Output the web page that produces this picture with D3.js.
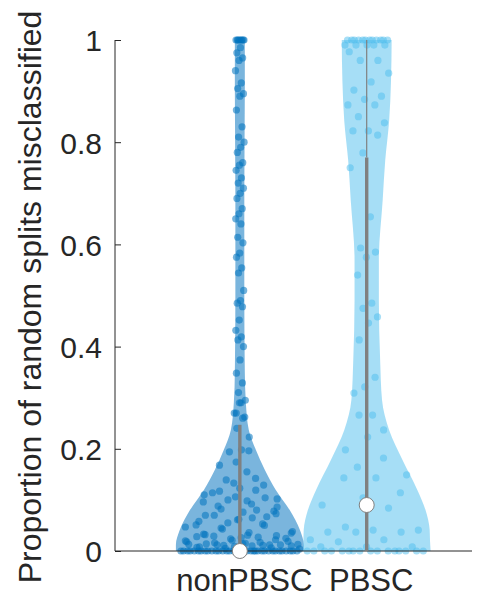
<!DOCTYPE html>
<html><head><meta charset="utf-8">
<script src="https://cdn.jsdelivr.net/npm/d3@7"></script>
<style>body{margin:0;background:#fff}svg{display:block}text{font-family:"Liberation Sans",Arial,sans-serif;fill:#262626}</style>
</head><body><svg id="c" width="488" height="598"></svg>
<script>
const categories = ["nonPBSC", "PBSC"];
const yTicks = [0, 0.2, 0.4, 0.6, 0.8, 1];
const yTickLabels = ["0", "0.2", "0.4", "0.6", "0.8", "1"];
const yLabel = "Proportion of random splits misclassified";

// violin outlines: [value, relative density]
const densityNon = [[0,1],[0.012,1],[0.041,0.94],[0.08,0.78],[0.12,0.56],[0.159,0.39],[0.198,0.25],[0.237,0.14],[0.29,0.094],[0.35,0.078],[0.5,0.07],[0.7,0.07],[0.9,0.078],[1,0.078]];
const densityPB = [[0,1],[0.02,0.99],[0.041,0.985],[0.08,0.92],[0.12,0.79],[0.178,0.56],[0.237,0.35],[0.295,0.24],[0.374,0.21],[0.49,0.19],[0.57,0.19],[0.687,0.25],[0.765,0.29],[0.84,0.35],[0.92,0.38],[1,0.39]];

const pointsNon = [1,1,1,1,1,1,1,1,
 0.985,0.975,0.965,0.96,0.94,0.916,0.905,0.895,0.89,0.863,0.83,0.81,0.80,0.79,0.78,0.76,0.755,0.745,0.73,0.72,0.71,0.70,0.69,0.67,0.66,0.65,0.64,
 0.614,0.603,0.583,0.575,0.554,0.544,0.51,0.49,0.485,0.478,0.452,0.432,0.419,0.413,0.40,0.374,0.348,0.329,0.31,0.295,0.29,0.27,0.262,
 0.29,0.27,0.26,0.24,0.223,0.198,0.194,0.196,0.174,0.168,0.155,0.139,0.129,0.123,0.114,0.119,0.1,0.102,0.098,0.117,0.104,0.106,0.096,0.08,0.082,0.086,0.076,0.07,0.067,0.055,0.047,0.065,0.07,0.078,0.061,0.051,0.053,0.045,0.035,0.031,0.033,0.022,0.024,0.02,0.027,0.029,0.025,0.026,0.028,0.012,0.011,0.013,0.01,0.014,0.012,0.009,0.013,0.011,0.012,0.01,0.015,0.008,
 0.142,0.133,0.11,0.092,0.088,0.073,0.062,0.058,0.05,0.043,0.038,0.036,0.032,0.03,0.021,0.018,0.017,0.016,0.019,0.014,0.007,0.006,0.005,0.004,
 0,0,0,0,0,0,0,0,0,0,0,0,0,0,0,0,0,0,0,0,0,0,0,0,0,0,0,0,0,0,0,0,0,0,0];
const pointsPB = [1,1,1,1,1,1,1,1,1,1,1,1,
 0.99,0.99,0.99,0.99,0.99,0.977,0.96,0.96,0.935,0.918,0.902,0.89,0.884,0.873,0.873,0.85,0.838,0.822,0.822,0.814,0.779,0.75,0.654,
 0.593,0.585,0.575,0.54,0.485,0.475,0.458,0.446,0.413,0.34,0.321,0.309,0.266,
 0.266,0.237,0.223,0.198,0.182,0.164,0.149,0.143,0.143,0.114,0.104,0.09,0.084,0.047,0.041,0.041,0.037,0.037,0.037,0.022,0.022,0.018,0.008,0.008,0.008,
 0,0,0,0,0,0,0,0,0,0,0,0,0,0,0,0];

// box statistics: [q1, median, q3, whiskerHigh]
const boxNon = [0, 0, 0.247, 0.247];
const boxPB = [0, 0.09, 0.77, 1];

const colors = ["#0072BD", "#4DBEEE"];

const svg = d3.select("#c");
const x = d3.scaleLinear().domain([0.016, 2.83]).range([115, 472]);
const y = d3.scaleLinear().domain([0, 1]).range([551, 40]);
const halfW = 0.504;

const groups = [
  {dens: densityNon, pts: pointsNon, box: boxNon},
  {dens: densityPB, pts: pointsPB, box: boxPB}
];

function densAt(d, v){
  for (let i=1;i<d.length;i++){ if (v<=d[i][0]){ const t=(v-d[i-1][0])/(d[i][0]-d[i-1][0]); return d[i-1][1]+t*(d[i][1]-d[i-1][1]); } }
  return d[d.length-1][1];
}

groups.forEach((g,gi)=>{
  const c = gi+1;
  const area = d3.area()
    .x0(d=>x(c - d[1]*halfW)).x1(d=>x(c + d[1]*halfW))
    .y(d=>y(d[0])).curve(d3.curveMonotoneY);
  svg.append("path").datum(g.dens).attr("d", area)
    .attr("fill", colors[gi]).attr("fill-opacity", gi===0?0.52:0.5);
});

// points
groups.forEach((g,gi)=>{
  const c = gi+1;
  svg.append("g").selectAll("circle").data(g.pts).join("circle")
    .attr("cx",(v,i)=>{ const u=((i+1)*0.6180339887)%1; return x(c + (u*2-1)*densAt(g.dens,v)*halfW*0.94); })
    .attr("cy", v=>y(v)).attr("r", 3.6)
    .attr("fill", colors[gi]).attr("fill-opacity", gi===0?0.55:0.5);
});

// axes
const yAxis = d3.axisLeft(y).tickValues(yTicks).tickFormat((d,i)=>yTickLabels[i]).tickSizeInner(-6).tickSizeOuter(0).tickPadding(13);
const ya = svg.append("g").attr("transform","translate(115,0)").call(yAxis);
ya.selectAll("line,path").attr("stroke","#262626");
ya.selectAll("text").style("font-size","30px").attr("fill","#262626").attr("dy","0.36em");
ya.select(".domain").attr("d","M0,40V551");

const xAxis = d3.axisBottom(x).tickValues([1,2]).tickFormat((d,i)=>categories[i]).tickSize(0).tickPadding(10);
const xa = svg.append("g").attr("transform","translate(0,551)").call(xAxis);
xa.select(".domain").attr("stroke","#262626").attr("d","M115,0H472");
xa.selectAll("text").style("font-size","31px").attr("fill","#262626").attr("dx","4").attr("dy","0.96em");

// boxes
groups.forEach((g,gi)=>{
  const c = gi+1, b = g.box;
  svg.append("line").attr("x1",x(c)).attr("x2",x(c)).attr("y1",y(b[2])).attr("y2",y(b[3]))
    .attr("stroke","#808080").attr("stroke-width",1.2);
  svg.append("line").attr("x1",x(c)).attr("x2",x(c)).attr("y1",y(b[0])).attr("y2",y(b[2]))
    .attr("stroke","#808080").attr("stroke-width",3.4);
  svg.append("circle").attr("cx",x(c)).attr("cy",y(b[1])).attr("r",7.5)
    .attr("fill","#fff").attr("stroke","#808080").attr("stroke-width",1);
});

svg.append("text").attr("transform","translate(30,297) rotate(-90)")
  .attr("text-anchor","middle").attr("dominant-baseline","central")
  .style("font-size","32px").text(yLabel);
</script></body></html>
